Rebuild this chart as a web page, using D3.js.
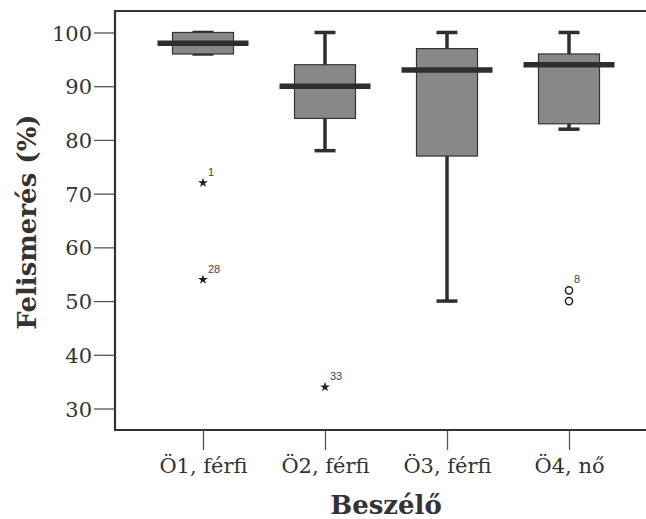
<!DOCTYPE html>
<html>
<head>
<meta charset="utf-8">
<script src="https://cdn.jsdelivr.net/npm/d3@7/dist/d3.min.js"></script>
<style>
    body { margin: 0; background: #fff; }
    svg { display: block; }
    .tick-label { font-family: "DejaVu Serif", serif; font-size: 21px; fill: #333; }
    .axis-title { font-family: "DejaVu Serif", serif; font-size: 26px; font-weight: bold; fill: #333; }
    .out-label { font-family: "Liberation Sans", Arial, sans-serif; font-size: 11px; fill: #444; }
</style>
</head>
<body>
<div id="chart-area"></div>
<script>
// speakers (categories)
const categories = ["Ö1, férfi", "Ö2, férfi", "Ö3, férfi", "Ö4, nő"];
// box plot summaries per speaker
const whiskerLow  = [96, 78, 50, 82];
const quartile1   = [96, 84, 77, 83];
const medians     = [98, 90, 93, 94];
const quartile3   = [100, 94, 97, 96];
const whiskerHigh = [100, 100, 100, 100];
// outliers: category index, value, case label, kind (star = extreme, circle = outlier)
const outlierCat   = [0, 0, 1, 3, 3];
const outlierVal   = [72, 54, 34, 52, 50];
const outlierLabel = ["1", "28", "33", "8", ""];
const outlierKind  = ["star", "star", "star", "circle", "circle"];
// y axis ticks
const yTicks = [30, 40, 50, 60, 70, 80, 90, 100];

(function () {
    'use strict';

    const WIDTH = 646, HEIGHT = 519;
    const FRAME = {LEFT: 115, TOP: 11, BOTTOM: 430};
    const DARK = "#2e2e2e";

    const svg = d3.select("#chart-area").append("svg")
        .attr("width", WIDTH)
        .attr("height", HEIGHT);

    // scales
    const x = d3.scalePoint()
        .domain(categories)
        .range([203, 569]);

    const y = d3.scaleLinear()
        .domain([26, 104])
        .range([FRAME.BOTTOM, FRAME.TOP]);

    // frame (open on the right, runs off the picture)
    svg.append("path")
        .attr("d", `M${WIDTH + 5},${FRAME.TOP}H${FRAME.LEFT}V${FRAME.BOTTOM}H${WIDTH + 5}`)
        .attr("fill", "none")
        .attr("stroke", "#333")
        .attr("stroke-width", 2.2);

    // y axis
    const yAxis = svg.append("g")
        .attr("transform", `translate(${FRAME.LEFT - 1}, 0)`)
        .call(d3.axisLeft(y).tickValues(yTicks).tickSize(20).tickPadding(2));
    yAxis.select(".domain").remove();
    yAxis.selectAll(".tick line").attr("stroke", "#555").attr("stroke-width", 1.3);
    yAxis.selectAll(".tick text").attr("class", "tick-label").attr("fill", null)
        .attr("dy", "0.36em");

    // x axis
    const xAxis = svg.append("g")
        .attr("transform", `translate(0, ${FRAME.BOTTOM + 1})`)
        .call(d3.axisBottom(x).tickSize(19).tickPadding(8));
    xAxis.select(".domain").remove();
    xAxis.selectAll(".tick line").attr("stroke", "#555").attr("stroke-width", 1.3);
    xAxis.selectAll(".tick text").attr("class", "tick-label").attr("fill", null);

    // axis titles
    svg.append("text")
        .attr("class", "axis-title")
        .attr("x", 386)
        .attr("y", 514)
        .attr("text-anchor", "middle")
        .text("Beszélő");

    svg.append("text")
        .attr("class", "axis-title")
        .attr("transform", `translate(36, 222) rotate(-90)`)
        .attr("text-anchor", "middle")
        .text("Felismerés (%)");

    // boxes
    const BOX_W = 61, CAP_W = 21, MED_W = 91;
    const boxes = svg.append("g").selectAll("g")
        .data(categories)
        .join("g");

    // whiskers
    boxes.append("line")
        .attr("x1", d => x(d)).attr("x2", d => x(d))
        .attr("y1", (d, i) => y(whiskerHigh[i]))
        .attr("y2", (d, i) => y(quartile3[i]))
        .attr("stroke", DARK).attr("stroke-width", 3.5);
    boxes.append("line")
        .attr("x1", d => x(d)).attr("x2", d => x(d))
        .attr("y1", (d, i) => y(quartile1[i]))
        .attr("y2", (d, i) => y(whiskerLow[i]))
        .attr("stroke", DARK).attr("stroke-width", 3.5);

    // caps
    boxes.append("line")
        .attr("x1", d => x(d) - CAP_W / 2).attr("x2", d => x(d) + CAP_W / 2)
        .attr("y1", (d, i) => y(whiskerHigh[i]))
        .attr("y2", (d, i) => y(whiskerHigh[i]))
        .attr("stroke", DARK).attr("stroke-width", 3.5);
    boxes.append("line")
        .attr("x1", d => x(d) - CAP_W / 2).attr("x2", d => x(d) + CAP_W / 2)
        .attr("y1", (d, i) => y(whiskerLow[i]))
        .attr("y2", (d, i) => y(whiskerLow[i]))
        .attr("stroke", DARK).attr("stroke-width", 3.5);

    // box
    boxes.append("rect")
        .attr("x", d => x(d) - BOX_W / 2)
        .attr("width", BOX_W)
        .attr("y", (d, i) => y(quartile3[i]))
        .attr("height", (d, i) => y(quartile1[i]) - y(quartile3[i]))
        .attr("fill", "#888888")
        .attr("stroke", "#333")
        .attr("stroke-width", 1.2);

    // median
    boxes.append("line")
        .attr("x1", d => x(d) - MED_W / 2).attr("x2", d => x(d) + MED_W / 2)
        .attr("y1", (d, i) => y(medians[i]))
        .attr("y2", (d, i) => y(medians[i]))
        .attr("stroke", DARK).attr("stroke-width", 5.5);

    // outliers
    const outliers = outlierVal.map((v, i) => ({
        cat: categories[outlierCat[i]], value: v, label: outlierLabel[i], kind: outlierKind[i]
    }));

    const star = d3.symbol().type(d3.symbolStar).size(30);
    const marks = svg.append("g").selectAll("g")
        .data(outliers)
        .join("g")
        .attr("transform", d => `translate(${x(d.cat)}, ${y(d.value)})`);

    marks.filter(d => d.kind === "star")
        .append("path")
        .attr("d", star())
        .attr("fill", "#222");

    marks.filter(d => d.kind === "circle")
        .append("circle")
        .attr("r", 3.6)
        .attr("fill", "none")
        .attr("stroke", "#222")
        .attr("stroke-width", 1.5);

    marks.append("text")
        .attr("class", "out-label")
        .attr("x", 5)
        .attr("y", -7)
        .text(d => d.label);
})();
</script>
</body>
</html>
